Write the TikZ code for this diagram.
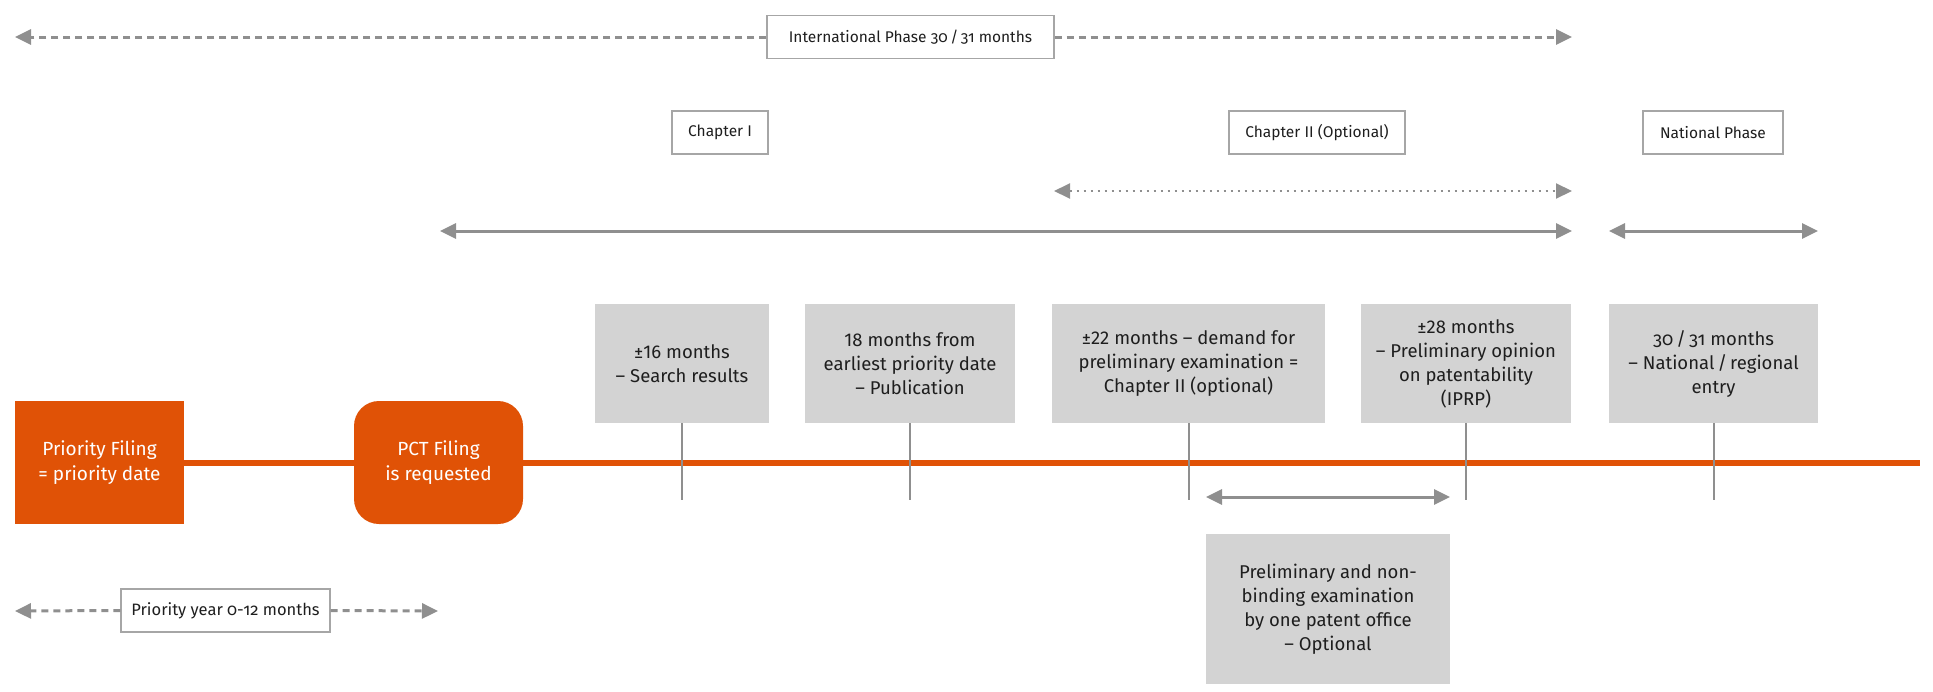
\documentclass[tikz,border=0pt]{standalone}
\usepackage{fontspec}
\setmainfont{Fira Sans}
\newfontfamily\osf[Numbers=OldStyle]{Fira Sans}
\usetikzlibrary{arrows.meta}
\definecolor{pctorange}{HTML}{E05206}
\definecolor{boxgray}{HTML}{D3D3D3}
\definecolor{arrgray}{HTML}{8F8F8F}
\definecolor{framegray}{HTML}{A6A6A6}
\definecolor{txt}{HTML}{1E1E1E}
\tikzset{
  lbl/.style={draw=framegray, line width=1.2pt, fill=white, inner sep=0pt, minimum height=43pt,
    font=\fontsize{15.5}{19}\selectfont, text=txt},
  info/.style={fill=boxgray, inner sep=0pt, minimum height=119pt, align=center,
    font=\fontsize{18.5}{24}\selectfont, text=txt},
  orangebox/.style={fill=pctorange, inner sep=0pt, minimum width=169pt, minimum height=123pt,
    align=center, text=white, font=\fontsize{19}{25}\selectfont},
  arr/.style={draw=arrgray, line width=3pt, {Triangle[length=16pt,width=15pt]}-{Triangle[length=16pt,width=15pt]}},
  onearr/.style={draw=arrgray, line width=3pt, -{Triangle[length=16pt,width=15pt]}},
  dasharr/.style={onearr, dash pattern=on 7pt off 5pt},
  dotarr/.style={draw=arrgray, line width=2pt, dash pattern=on 2pt off 5pt,
    {Triangle[length=16pt,width=15pt]}-{Triangle[length=16pt,width=15pt]}},
  tick/.style={draw=arrgray, line width=2pt},
  timeline/.style={draw=pctorange, line width=6pt},
}
\begin{document}
\begin{tikzpicture}[x=1pt,y=-1pt]
\useasboundingbox (0,0) rectangle (1933,691);

% top international phase
\node[lbl, minimum width=287pt] (intl) at (910.5,37) {International Phase {\osf 30\,/\,31} months};
\coordinate (iL) at (15,37);
\coordinate (iR) at (1572,37);
\draw[dasharr] (intl.west) -- (iL);
\draw[dasharr] (intl.east) -- (iR);

% chapter labels
\node[lbl, minimum width=96pt] (ch1) at (720,132.5) {Chapter I};
\node[lbl, minimum width=176pt] (ch2) at (1317,132.5) {Chapter II (Optional)};
\node[lbl, minimum width=140pt] (nat) at (1713,132.5) {National Phase};

% span arrows
\coordinate (dL) at (1054,191);
\coordinate (dR) at (1572,191);
\draw[dotarr] (dL) -- (dR);
\coordinate (sL) at (440,231);
\coordinate (sR) at (1572,231);
\draw[arr] (sL) -- (sR);
\coordinate (nL) at (1609,231);
\coordinate (nR) at (1818,231);
\draw[arr] (nL) -- (nR);

% orange boxes and timeline
\node[orangebox] (pf) at (99.5,462.5) {Priority Filing\\= priority date};
\node[orangebox, rounded corners=25pt] (pct) at (438.5,462.5) {PCT Filing\\is requested};
\coordinate (tlend) at (1920,462.5);
\draw[timeline] (pf.east) -- (pct.west);

% info boxes
\node[info, minimum width=174pt] (b1) at (682,363.5) {±16 months\\– Search results};
\node[info, minimum width=210pt] (b2) at (910,363.5) {18 months from\\earliest priority date\\– Publication};
\node[info, minimum width=273pt] (b3) at (1188.5,363.5) {±22 months – demand for\\preliminary examination =\\Chapter II (optional)};
\node[info, minimum width=210pt] (b4) at (1466,363.5) {±28 months\\– Preliminary opinion\\on patentability\\(IPRP)};
\node[info, minimum width=209pt] (b5) at (1713.5,363.5) {{\osf 30\,/\,31} months\\– National\,/\,regional\\entry};

\draw[timeline] (pct.east) -- (tlend);

% ticks
\coordinate (tk) at (0,500);
\foreach \b in {b1,b2,b3,b4,b5}{
  \draw[tick] (\b.south) -- (\b.south |- tk);
}

% lower examination arrow and box
\coordinate (lL) at (1206,497);
\coordinate (lR) at (1450,497);
\draw[arr] (lL) -- (lR);
\node[info, minimum width=244pt, minimum height=150pt] (low) at (1328,609)
  {Preliminary and non-\\binding examination\\by one patent office\\– Optional};

% priority year
\node[lbl, minimum width=209pt, font=\fontsize{16.5}{20}\selectfont] (py) at (225.5,610.5) {Priority year {\osf 0-12} months};
\coordinate (pL) at (15,611);
\coordinate (pR) at (438,611);
\draw[dasharr] (py.west) -- (pL);
\draw[dasharr] (py.east) -- (pR);
\end{tikzpicture}
\end{document}
